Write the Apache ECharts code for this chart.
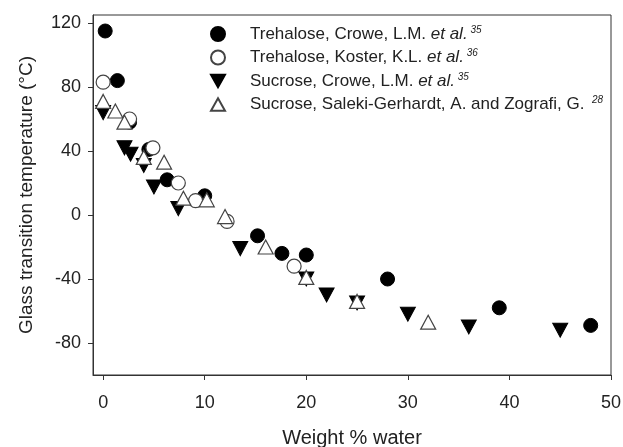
<!DOCTYPE html>
<html>
<head>
<meta charset="utf-8">
<script src="https://cdn.jsdelivr.net/npm/echarts@6/dist/echarts.min.js"></script>
<style>
  html, body { margin: 0; padding: 0; background: #fff; }
  #chart { width: 623px; height: 447px; }
</style>
</head>
<body>
<div id="chart"></div>
<script>
// [weight % water, Tg °C]
const trehaloseCrowe = [[0.2, 115], [1.4, 84], [2.6, 58], [4.5, 41], [6.3, 22], [10, 12],
  [15.2, -13], [17.6, -24], [20, -25], [28, -40], [39, -58], [48, -69]];
const trehaloseKoster = [[0, 83], [2.6, 60], [4.9, 42], [7.4, 20], [9.1, 9], [12.2, -4], [18.8, -32]];
const sucroseCrowe = [[0, 64], [2.1, 42], [2.7, 38], [4, 31], [5, 17.5], [7.4, 4], [13.5, -21],
  [20, -40], [22, -50], [25, -55], [30, -62], [36, -70], [45, -72]];
const sucroseSaleki = [[0, 71], [1.2, 65], [2.1, 58], [4, 36], [6, 33], [7.9, 10.5], [10.2, 9.5],
  [12, -1], [16, -20], [20, -39], [25, -54], [32, -67]];

const xTicks = [0, 10, 20, 30, 40, 50];
const yTicks = [-80, -40, 0, 40, 80, 120];

// name | italic part | reference number
const names = [
  'Trehalose, Crowe, L.M. |et al.|35',
  'Trehalose, Koster, K.L. |et al.|36',
  'Sucrose, Crowe, L.M. |et al.|35',
  'Sucrose, Saleki-Gerhardt, A. and Zografi, G. ||28'
];

const downTri = 'path://M0,0 L10,0 L5,9 Z';
const upTri = 'path://M5,0 L10,9 L0,9 Z';

const filled = { color: '#000', borderColor: '#000', borderWidth: 1, opacity: 1 };
const hollow = { color: '#fff', borderColor: '#444', borderWidth: 1.2, opacity: 1 };

const chart = echarts.init(document.getElementById('chart'));
chart.setOption({
  animation: false,
  textStyle: { fontFamily: 'Liberation Sans, Arial, sans-serif' },
  grid: {
    left: 93, right: 12, top: 15, bottom: 72,
    outerBoundsMode: 'none',
    show: true, borderColor: '#333', borderWidth: 1
  },
  legend: {
    orient: 'vertical',
    left: 205,
    top: 20,
    itemGap: 6,
    itemWidth: 14,
    itemHeight: 14,
    data: names,
    formatter: function (n) {
      const p = n.split('|');
      let s = '{n|' + p[0] + '}';
      if (p[1]) s += '{i|' + p[1] + '}';
      s += '{s| ' + p[2] + '}';
      return s;
    },
    textStyle: {
      color: '#222',
      fontSize: 17,
      padding: [0, 0, 0, 20],
      rich: {
        n: { fontSize: 17, color: '#222', lineHeight: 18 },
        i: { fontSize: 17, color: '#222', fontStyle: 'italic', lineHeight: 18 },
        s: { fontSize: 10, color: '#222', fontStyle: 'italic', verticalAlign: 'top', lineHeight: 18 }
      }
    }
  },
  xAxis: {
    type: 'value',
    min: -1,
    max: 50,
    name: 'Weight % water',
    nameLocation: 'middle',
    nameGap: 53,
    nameTextStyle: { fontSize: 20, color: '#222' },
    splitLine: { show: false },
    axisLine: { show: true, onZero: false, lineStyle: { color: '#333' } },
    axisTick: { show: true, customValues: xTicks, length: 5, lineStyle: { color: '#333' } },
    axisLabel: { customValues: xTicks, fontSize: 18, color: '#222', margin: 19 }
  },
  yAxis: {
    type: 'value',
    min: -100,
    max: 125,
    name: 'Glass transition temperature (°C)',
    nameLocation: 'middle',
    nameGap: 57,
    nameTextStyle: { fontSize: 19, color: '#222' },
    splitLine: { show: false },
    axisLine: { show: true, onZero: false, lineStyle: { color: '#333' } },
    axisTick: { show: true, customValues: yTicks, length: 5, lineStyle: { color: '#333' } },
    axisLabel: { customValues: yTicks, fontSize: 18, color: '#222', margin: 12 }
  },
  series: [
    { name: names[0], type: 'scatter', data: trehaloseCrowe, symbol: 'circle', symbolSize: 14, itemStyle: filled, z: 2 },
    { name: names[1], type: 'scatter', data: trehaloseKoster, symbol: 'circle', symbolSize: 14, itemStyle: hollow, z: 3 },
    { name: names[2], type: 'scatter', data: sucroseCrowe, symbol: downTri, symbolSize: [15, 14], itemStyle: filled, z: 4 },
    { name: names[3], type: 'scatter', data: sucroseSaleki, symbol: upTri, symbolSize: [15, 14], itemStyle: hollow, z: 5 }
  ]
});
</script>
</body>
</html>
